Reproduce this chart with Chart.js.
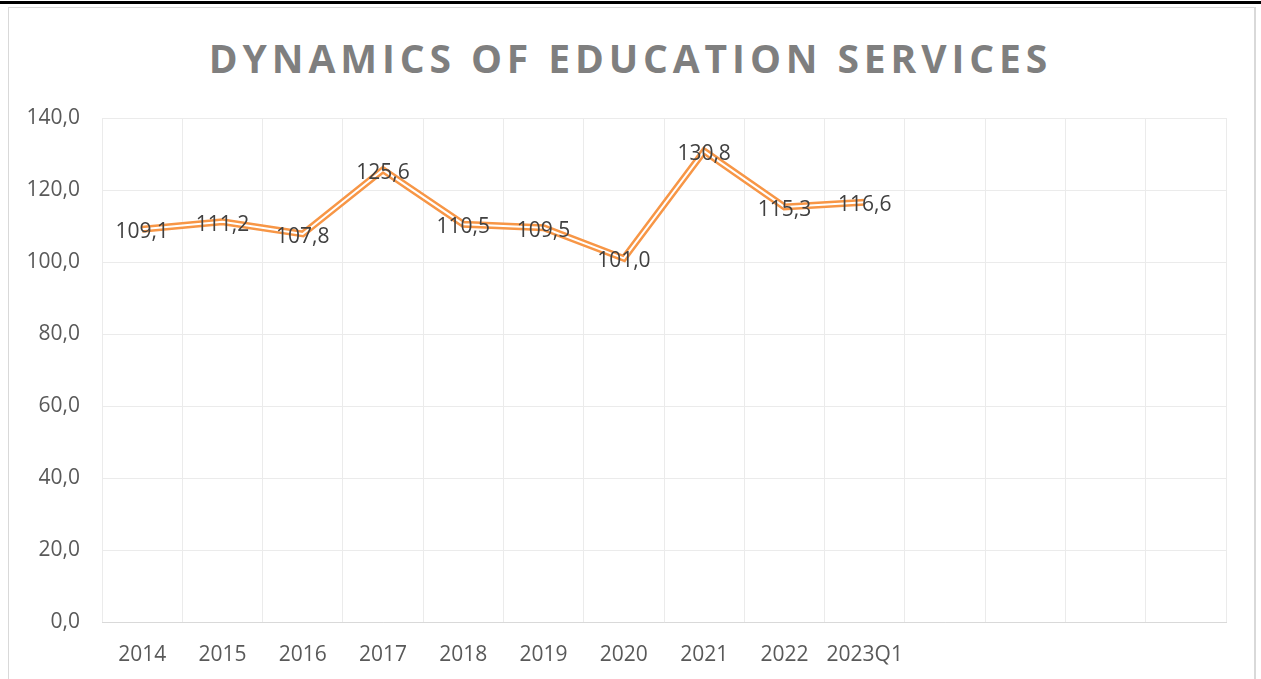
<!DOCTYPE html>
<html>
<head>
<meta charset="utf-8">
<script src="https://cdn.jsdelivr.net/npm/chart.js@4"></script>
<style>
  body { margin: 0; background: #fff; width: 1261px; height: 679px; overflow: hidden; position: relative; }
  #topline { position: absolute; left: 0; top: 1px; width: 1261px; height: 3px; background: #000; }
  #frame { position: absolute; left: 8px; top: 7px; width: 1245px; height: 700px; border: 1px solid #d9d9d9; border-right-width: 2px; }
  #title { position: absolute; left: 0; top: 30px; width: 1261px; text-align: center; font-family: "Open Sans", sans-serif; font-weight: bold; font-size: 39px; letter-spacing: 4.9px; color: #7f7f7f; line-height: 56px; }
  #wrap { position: absolute; left: 0; top: 0; width: 1261px; height: 679px; }
</style>
</head>
<body>
<div id="topline"></div>
<div id="frame"></div>
<div id="title">DYNAMICS OF EDUCATION SERVICES</div>
<div id="wrap"><canvas id="chart"></canvas></div>
<script>
// chart data
const categories = ["2014", "2015", "2016", "2017", "2018", "2019", "2020", "2021", "2022", "2023Q1", "", "", "", ""];
const values = [109.1, 111.2, 107.8, 125.6, 110.5, 109.5, 101.0, 130.8, 115.3, 116.6, null, null, null, null];
const yMin = 0;
const yMax = 140;
const yStep = 20;

const orange = "#f79646";
const gridColor = "#ebebeb";

function fmt(v) {
    return v.toFixed(1).replace(".", ",");
}

// draws the value on each point
const valueLabels = {
    id: "valueLabels",
    afterDatasetsDraw(chart) {
        const ctx = chart.ctx;
        const meta = chart.getDatasetMeta(0);
        ctx.save();
        ctx.font = "21px 'Open Sans', sans-serif";
        ctx.fillStyle = "#404040";
        ctx.textAlign = "center";
        ctx.textBaseline = "middle";
        meta.data.forEach((pt, i) => {
            if (values[i] == null) return;
            ctx.fillText(fmt(values[i]), pt.x, pt.y + 3);
        });
        ctx.restore();
    }
};

const ctx = document.getElementById("chart").getContext("2d");
new Chart(ctx, {
    type: "line",
    data: {
        labels: categories,
        datasets: [
            // outer orange stroke (drawn underneath)
            {
                data: values,
                borderColor: orange,
                borderWidth: 7,
                pointRadius: 0,
                tension: 0,
                order: 2
            },
            // white core gives the double line look
            {
                data: values,
                borderColor: "#ffffff",
                borderWidth: 2,
                pointRadius: 0,
                tension: 0,
                order: 1
            }
        ]
    },
    options: {
        responsive: true,
        maintainAspectRatio: false,
        animation: false,
        layout: { padding: { top: 118, right: 35, bottom: 0, left: 0 } },
        plugins: {
            legend: { display: false },
            tooltip: { enabled: false }
        },
        scales: {
            x: {
                offset: true,
                grid: { color: gridColor, offset: true, drawTicks: false },
                border: { color: "#d9d9d9" },
                ticks: {
                    color: "#595959",
                    font: { family: "'Open Sans', sans-serif", size: 21 },
                    padding: 20,
                    maxRotation: 0,
                    autoSkip: false
                },
                afterFit(scale) { scale.height = 57; }
            },
            y: {
                min: yMin,
                max: yMax,
                grid: { color: gridColor, drawTicks: false },
                border: { display: false },
                ticks: {
                    stepSize: yStep,
                    color: "#595959",
                    font: { family: "'Open Sans', sans-serif", size: 21 },
                    padding: 22,
                    callback: (v) => fmt(v)
                },
                afterFit(scale) { scale.width = 102; }
            }
        }
    },
    plugins: [valueLabels]
});
</script>
</body>
</html>
